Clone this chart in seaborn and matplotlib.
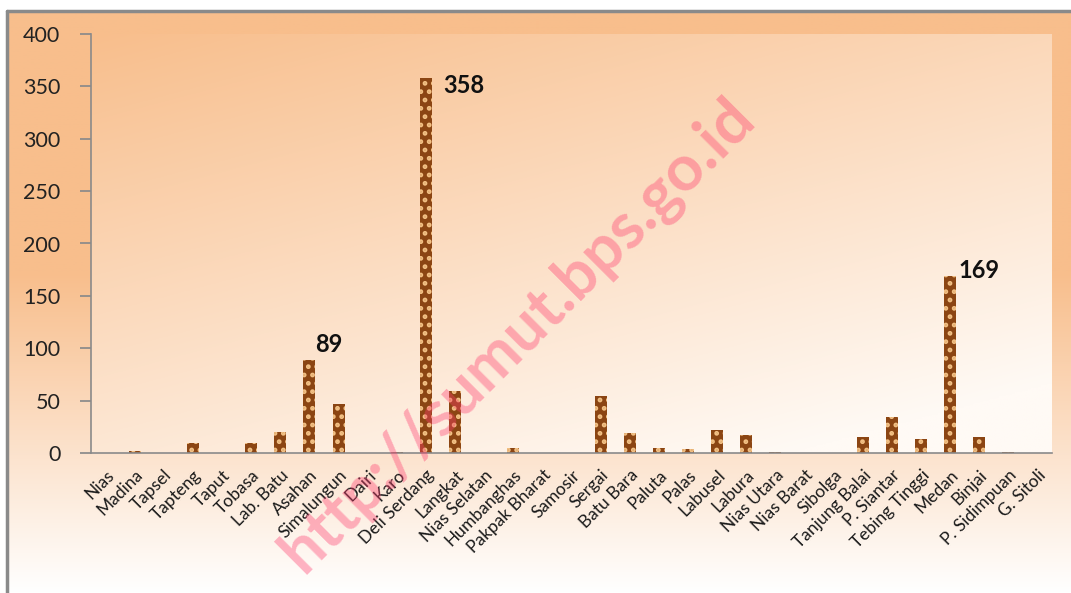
import numpy as np
import pandas as pd
import matplotlib
matplotlib.use("Agg")
import matplotlib.pyplot as plt
import seaborn as sns
from matplotlib.lines import Line2D

categories = ["Nias", "Madina", "Tapsel", "Tapteng", "Taput", "Tobasa", "Lab. Batu",
              "Asahan", "Simalungun", "Dairi", "Karo", "Deli Serdang", "Langkat",
              "Nias Selatan", "Humbanghas", "Pakpak Bharat", "Samosir", "Sergai",
              "Batu Bara", "Paluta", "Palas", "Labusel", "Labura", "Nias Utara",
              "Nias Barat", "Sibolga", "Tanjung Balai", "P. Siantar", "Tebing Tinggi",
              "Medan", "Binjai", "P. Sidimpuan", "G. Sitoli"]
values = [0, 2, 0, 10, 0, 10, 20, 89, 47, 0, 1, 358, 59, 0, 5, 0, 0, 54, 19, 5, 4,
          22, 17, 1, 0, 0, 15, 34, 13, 169, 15, 1, 0]
labelled = {"Asahan": "89", "Deli Serdang": "358", "Medan": "169"}
yticks = [0, 50, 100, 150, 200, 250, 300, 350, 400]

sns.set_theme(style="white")
plt.rcParams['font.family'] = ['Lato', 'DejaVu Sans']
plt.rcParams['hatch.linewidth'] = 2.2

W, H = 1071, 593
fig = plt.figure(figsize=(W / 100, H / 100), dpi=100)
fig.patch.set_facecolor("white")

# figure background gradient (vertical: orange top -> white bottom)
bg = fig.add_axes([7 / W, 0, 1 - 7 / W, 1 - 11 / H], zorder=-10)
bg.set_axis_off()
gy = np.linspace(0, 1, 300)[:, None]
t = np.clip((gy - 0.45) / 0.55, 0, 1)
top = np.array([248, 190, 140]) / 255
bot = np.array([255, 255, 255]) / 255
img = top[None, None, :] * (1 - t[..., None]) + bot[None, None, :] * t[..., None]
img = np.repeat(img, 2, axis=1)
bg.imshow(img, aspect="auto", extent=[0, 1, 0, 1], origin="upper")
bg.set_xlim(0, 1); bg.set_ylim(0, 1)

# border
fig.add_artist(Line2D([7 / W, 1.0], [1 - 11 / H, 1 - 11 / H], transform=fig.transFigure,
                      color="#8a8a8a", lw=2.5))
fig.add_artist(Line2D([7 / W, 7 / W], [0, 1 - 11 / H], transform=fig.transFigure,
                      color="#8a8a8a", lw=2.5))

ax = fig.add_axes([91 / W, 1 - 453 / H, (1052 - 91) / W, (453 - 34) / H])
ax.set_facecolor("none")

# plot-area diagonal gradient
n = 300
xx, yy = np.meshgrid(np.linspace(0, 1, n), np.linspace(0, 1, n))
d = np.clip((xx * 0.55 + yy * 0.9) / 1.3, 0, 1)
c0 = np.array([248, 190, 140]) / 255
c1 = np.array([255, 250, 245]) / 255
pimg = c0[None, None, :] * (1 - d[..., None]) + c1[None, None, :] * d[..., None]
ax.imshow(pimg, aspect="auto", extent=[0, 1, 0, 1], origin="upper",
          transform=ax.transAxes, zorder=-5)

df = pd.DataFrame({"Kabupaten": categories, "Jumlah": values})
sns.barplot(data=df, x="Kabupaten", y="Jumlah", ax=ax, color="#8B4513",
            width=0.41, saturation=1)
for p in ax.patches:
    p.set_facecolor("#8B4513")
    p.set_edgecolor("#F2C084")
    p.set_hatch("..")
    p.set_linewidth(0)

ax.set_ylim(0, 400)
ax.set_xlim(-0.5, len(categories) - 0.5)
ax.set_yticks(yticks)
ax.set_yticklabels([str(v) for v in yticks], fontsize=15.5, color="#222222")
ax.set_xticks(range(len(categories)))
ax.set_xticklabels(categories, rotation=45, ha="right", rotation_mode="anchor",
                   fontsize=12.5, color="#1a1a1a")
ax.set_xlabel(""); ax.set_ylabel("")
for s in ["top", "right"]:
    ax.spines[s].set_visible(False)
for s in ["left", "bottom"]:
    ax.spines[s].set_color("#8a8a8a")
    ax.spines[s].set_linewidth(1.2)
ax.tick_params(axis="y", which="both", left=True, length=8, color="#8a8a8a", pad=14)
ax.tick_params(axis="x", bottom=False, pad=4)

for i, (c, v) in enumerate(zip(categories, values)):
    if c in labelled:
        if c == "Asahan":
            ax.text(i + 0.65, v + 4, labelled[c], fontsize=17, fontweight="bold",
                    ha="center", va="bottom", color="#111111")
        elif c == "Deli Serdang":
            ax.text(i + 0.6, v - 7, labelled[c], fontsize=17, fontweight="bold",
                    ha="left", va="center", color="#111111")
        else:
            ax.text(i + 0.3, v + 5, labelled[c], fontsize=17, fontweight="bold",
                    ha="left", va="center", color="#111111")

fig.text(517 / W, 1 - 335 / H, "http://sumut.bps.go.id", fontsize=46, fontweight="bold",
         color="#FF3D6E", alpha=0.38, rotation=45, ha="center", va="center",
         rotation_mode="anchor")

fig.savefig("out.png", dpi=100)
